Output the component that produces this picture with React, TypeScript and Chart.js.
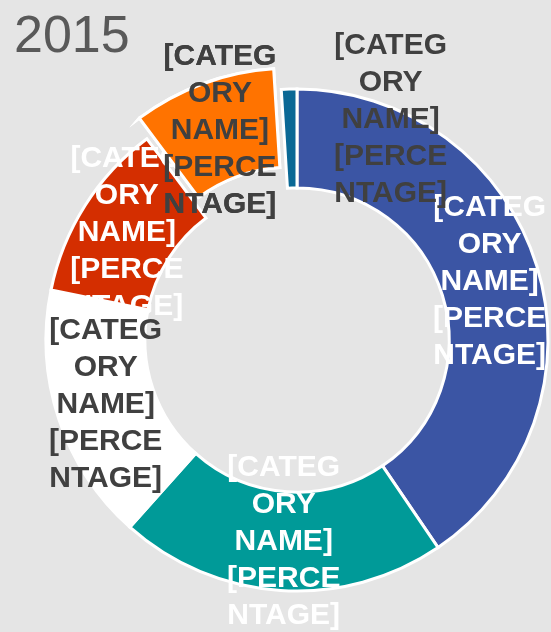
import React, { useEffect, useRef } from "react";
import { Chart, registerables } from "chart.js";

Chart.register(...registerables);

const TITLE = "2015";
const categories = [
  "[CATEGORY NAME]",
  "[CATEGORY NAME]",
  "[CATEGORY NAME]",
  "[CATEGORY NAME]",
  "[CATEGORY NAME]",
  "[CATEGORY NAME]",
];
const percentLabels = [
  "[PERCENTAGE]",
  "[PERCENTAGE]",
  "[PERCENTAGE]",
  "[PERCENTAGE]",
  "[PERCENTAGE]",
  "[PERCENTAGE]",
];
const values = [40.5, 21.1, 16.6, 11.6, 9.2, 1.0];
const sliceColors = ["#3B55A4", "#009A98", "#FFFFFF", "#D42E00", "#FF7300", "#0A6895"];
const labelColors = ["#FFFFFF", "#FFFFFF", "#404040", "#FFFFFF", "#404040", "#404040"];
const explode = [0, 0, 0, 0, 22, 0];
const labelAngleShiftDeg = [0, 0, 0, 0, 0, 24.7];
const labelRadiusShift = [0, 0, 0, 0, 0, 39];

const LABEL_FONT = "bold 30px 'Liberation Sans', Arial, sans-serif";
const LABEL_LINE = 37;
const LABEL_MAX_W = 120;

function wrapText(ctx: CanvasRenderingContext2D, text: string, maxW: number): string[] {
  const words = text.split(" ");
  const lines: string[] = [];
  let cur = "";
  const pushWord = (w: string) => {
    let rest = w;
    while (ctx.measureText(rest).width > maxW) {
      let i = 1;
      while (i < rest.length && ctx.measureText(rest.slice(0, i + 1)).width <= maxW) i++;
      lines.push(rest.slice(0, i));
      rest = rest.slice(i);
    }
    return rest;
  };
  for (const w of words) {
    const cand = cur ? cur + " " + w : w;
    if (ctx.measureText(cand).width <= maxW) {
      cur = cand;
    } else {
      if (cur) lines.push(cur);
      cur = pushWord(w);
    }
  }
  if (cur) lines.push(cur);
  return lines;
}

function drawLabel(chart: any, i: number) {
  const ctx: CanvasRenderingContext2D = chart.ctx;
  const meta = chart.getDatasetMeta(0);
  const el: any = meta.data[i];
  const mid = (el.startAngle + el.endAngle) / 2 + (labelAngleShiftDeg[i] * Math.PI) / 180;
  const r = (el.innerRadius + el.outerRadius) / 2 + labelRadiusShift[i];
  const cx = el.x + Math.cos(mid) * r;
  const cy = el.y + Math.sin(mid) * r + 1;
  ctx.save();
  ctx.font = LABEL_FONT;
  ctx.fillStyle = labelColors[i];
  ctx.textAlign = "center";
  ctx.textBaseline = "middle";
  const lines = wrapText(ctx, categories[i] + " " + percentLabels[i], LABEL_MAX_W);
  lines.forEach((ln, k) => {
    ctx.fillText(ln, cx, cy + (k - (lines.length - 1) / 2) * LABEL_LINE);
  });
  ctx.restore();
}

const customPlugin = {
  id: "customDoughnut",
  afterDatasetsUpdate(chart: any) {
    const meta = chart.getDatasetMeta(0);
    meta.data.forEach((el: any, i: number) => {
      const d = explode[i];
      if (!d) return;
      const mid = (el.startAngle + el.endAngle) / 2;
      el.x += Math.cos(mid) * d;
      el.y += Math.sin(mid) * d;
    });
  },
  afterDatasetsDraw(chart: any) {
    const ctx: CanvasRenderingContext2D = chart.ctx;
    const meta = chart.getDatasetMeta(0);
    for (let i = 0; i < values.length; i++) drawLabel(chart, i);
    // exploded slices sit on top of neighbouring labels
    for (let i = 0; i < values.length; i++) {
      if (explode[i]) {
        meta.data[i].draw(ctx);
        drawLabel(chart, i);
      }
    }
    ctx.save();
    ctx.font = "52px 'Liberation Sans', Arial, sans-serif";
    ctx.fillStyle = "#595959";
    ctx.textAlign = "left";
    ctx.textBaseline = "alphabetic";
    ctx.fillText(TITLE, 14, 52);
    ctx.restore();
  },
};

export default function App() {
  const ref = useRef<HTMLCanvasElement>(null);
  useEffect(() => {
    const chart = new Chart(ref.current as HTMLCanvasElement, {
      type: "doughnut",
      data: {
        labels: categories,
        datasets: [
          {
            data: values,
            backgroundColor: sliceColors,
            borderColor: "#FFFFFF",
            borderWidth: 3,
            borderJoinStyle: "miter",
          } as any,
        ],
      },
      options: {
        responsive: false,
        animation: false,
        events: [],
        radius: 251,
        cutout: "60.6%",
        layout: { padding: { left: 43, top: 48, right: 0, bottom: 0 } },
        plugins: {
          legend: { display: false },
          tooltip: { enabled: false },
          title: { display: false },
        },
      } as any,
      plugins: [customPlugin],
    });
    return () => chart.destroy();
  }, []);
  return (
    <div
      style={{
        position: "fixed",
        left: 0,
        top: 0,
        width: 551,
        height: 632,
        background: "#E5E5E5",
        overflow: "hidden",
      }}
    >
      <canvas ref={ref} width={551} height={632} style={{ display: "block" }} />
    </div>
  );
}
